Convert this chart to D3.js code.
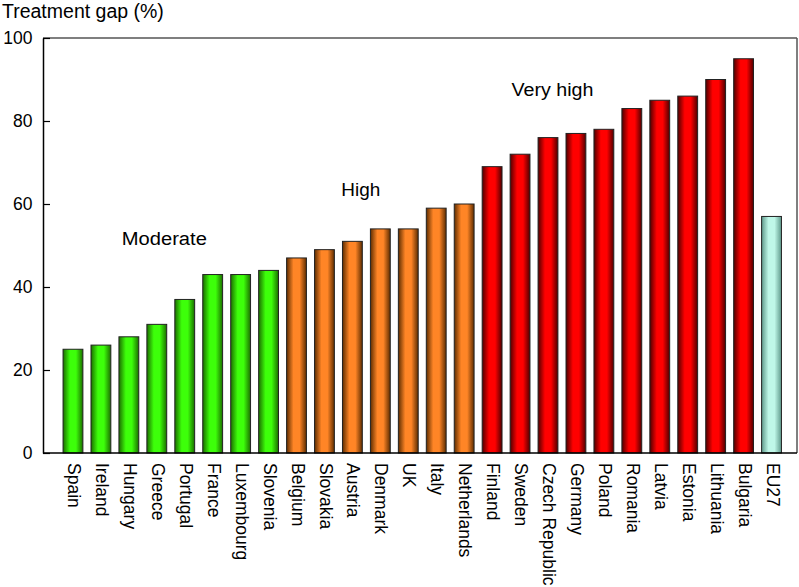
<!DOCTYPE html>
<html>
<head>
<meta charset="utf-8">
<script src="https://cdn.jsdelivr.net/npm/d3@7"></script>
<style>
  html, body { margin: 0; padding: 0; background: #fff; }
  svg { display: block; font-family: "Liberation Sans", Arial, Helvetica, sans-serif; }
</style>
</head>
<body>
<svg id="chart" width="799" height="587"></svg>
<script>
const categories = ["Spain","Ireland","Hungary","Greece","Portugal","France","Luxembourg","Slovenia",
  "Belgium","Slovakia","Austria","Denmark","UK","Italy","Netherlands",
  "Finland","Sweden","Czech Republic","Germany","Poland","Romania","Latvia","Estonia","Lithuania","Bulgaria",
  "EU27"];
const values = [25,26,28,31,37,43,43,44, 47,49,51,54,54,59,60, 69,72,76,77,78,83,85,86,90,95, 57];
const groups = ["moderate","moderate","moderate","moderate","moderate","moderate","moderate","moderate",
  "high","high","high","high","high","high","high",
  "veryhigh","veryhigh","veryhigh","veryhigh","veryhigh","veryhigh","veryhigh","veryhigh","veryhigh","veryhigh",
  "eu"];
const yTicks = [0,20,40,60,80,100];
// label position: fractional bar index (centre) and value of baseline
const groupLabels = [
  {text:"Moderate", pos:3.27, y:50.1, w:85},
  {text:"High", pos:10.3, y:61.9, w:39},
  {text:"Very high", pos:17.16, y:86.0, w:82}
];
const yTitle = "Treatment gap (%)";

const colors = {
  moderate: {edge:"#1c6e00", mid:"#3dff0a"},
  high: {edge:"#5e2d00", mid:"#ff8526"},
  veryhigh: {edge:"#500000", mid:"#ff0000"},
  eu: {edge:"#5f998b", mid:"#bff7e8"}
};

const svg = d3.select("#chart");
const mLeft = 43, mRight = 797, mTop = 38, mBottom = 453;

const x = d3.scaleBand().domain(categories).range([59, 785.5]).paddingInner(0.29).paddingOuter(0.145);
const y = d3.scaleLinear().domain([0, 100]).range([mBottom, mTop]);
const xi = d3.scaleLinear().domain([0, categories.length - 1])
  .range([x(categories[0]) + x.bandwidth() / 2, x(categories[categories.length - 1]) + x.bandwidth() / 2]);

// gradients
const defs = svg.append("defs");
Object.entries(colors).forEach(([k, c]) => {
  const g = defs.append("linearGradient").attr("id", "g-" + k)
    .attr("x1", "0%").attr("x2", "100%").attr("y1", "0%").attr("y2", "0%");
  g.append("stop").attr("offset", "0%").attr("stop-color", c.edge);
  g.append("stop").attr("offset", "35%").attr("stop-color", c.mid);
  g.append("stop").attr("offset", "65%").attr("stop-color", c.mid);
  g.append("stop").attr("offset", "100%").attr("stop-color", c.edge);
});

// bars
svg.append("g").selectAll("rect").data(categories).join("rect")
  .attr("x", d => x(d))
  .attr("width", x.bandwidth())
  .attr("y", (d, i) => y(values[i]))
  .attr("height", (d, i) => y(0) - y(values[i]))
  .attr("fill", (d, i) => `url(#g-${groups[i]})`)
  .attr("stroke", "#222")
  .attr("stroke-width", 1);

// frame (top/right)
svg.append("line").attr("x1", mLeft).attr("x2", mRight).attr("y1", mTop).attr("y2", mTop)
  .attr("stroke", "#555").attr("stroke-width", 1.5);
svg.append("line").attr("x1", mRight).attr("x2", mRight).attr("y1", mTop).attr("y2", mBottom)
  .attr("stroke", "#555").attr("stroke-width", 1.5);

// y axis
const yAxis = d3.axisLeft(y).tickValues(yTicks).tickSize(-7).tickPadding(10.5).tickSizeOuter(0);
const ya = svg.append("g").attr("transform", `translate(${mLeft},0)`).call(yAxis);
ya.select(".domain").attr("stroke", "#000").attr("stroke-width", 1.5);
ya.selectAll(".tick line").attr("stroke", "#000").attr("stroke-width", 1.2);
ya.selectAll(".tick text").attr("font-size", "17.5px").attr("fill", "#000")
  .attr("font-family", "'Liberation Sans', Arial, sans-serif");

// x axis
const xAxis = d3.axisBottom(x).tickSize(0).tickSizeOuter(0);
const xa = svg.append("g").attr("transform", `translate(0,${mBottom})`).call(xAxis);
xa.select(".domain").attr("d", `M${mLeft},0H${mRight}`).attr("stroke", "#000").attr("stroke-width", 1.5);
xa.selectAll(".tick text")
  .attr("font-size", "17.5px").attr("fill", "#000")
  .attr("font-family", "'Liberation Sans', Arial, sans-serif")
  .attr("text-anchor", "start")
  .attr("transform", "rotate(90)")
  .attr("x", 10).attr("y", 0).attr("dy", "0.28em");

// title
svg.append("text").attr("x", 2).attr("y", 17.5).attr("font-size", "19.5px")
  .attr("fill", "#000").text(yTitle);

// group labels
svg.append("g").selectAll("text").data(groupLabels).join("text")
  .attr("x", d => xi(d.pos))
  .attr("y", d => y(d.y))
  .attr("text-anchor", "middle")
  .attr("font-size", "18px")
  .attr("fill", "#000")
  .attr("textLength", d => d.w)
  .attr("lengthAdjust", "spacingAndGlyphs")
  .text(d => d.text);
</script>
</body>
</html>
